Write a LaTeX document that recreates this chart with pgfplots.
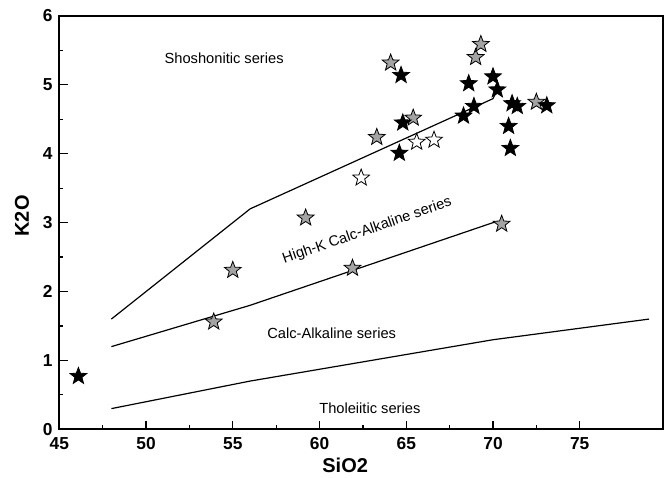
\documentclass[border=0pt]{standalone}
\usepackage{fontspec}
\setmainfont{Liberation Sans}
\usepackage{pgfplots}
\pgfplotsset{compat=1.18}
\definecolor{stargray}{HTML}{A3A3A3}

% filled five-point star mark
\pgfdeclareplotmark{fstar}{%
  \pgfpathmoveto{\pgfpointpolar{90}{\pgfplotmarksize}}%
  \pgfpathlineto{\pgfpointpolar{126}{0.42\pgfplotmarksize}}%
  \pgfpathlineto{\pgfpointpolar{162}{\pgfplotmarksize}}%
  \pgfpathlineto{\pgfpointpolar{198}{0.42\pgfplotmarksize}}%
  \pgfpathlineto{\pgfpointpolar{234}{\pgfplotmarksize}}%
  \pgfpathlineto{\pgfpointpolar{270}{0.42\pgfplotmarksize}}%
  \pgfpathlineto{\pgfpointpolar{306}{\pgfplotmarksize}}%
  \pgfpathlineto{\pgfpointpolar{342}{0.42\pgfplotmarksize}}%
  \pgfpathlineto{\pgfpointpolar{18}{\pgfplotmarksize}}%
  \pgfpathlineto{\pgfpointpolar{54}{0.42\pgfplotmarksize}}%
  \pgfpathclose
  \pgfusepathqfillstroke}

\begin{document}
\begin{tikzpicture}
\begin{axis}[
  scale only axis, width=452.8pt, height=310pt,
  xmin=45, xmax=79.8, ymin=0, ymax=6,
  xtick={45,50,...,75}, ytick={0,1,...,6},
  minor tick num=1, tick pos=left, tick align=inside,
  major tick length=6.5pt, minor tick length=3pt,
  every tick/.style={black, line width=0.9pt},
  axis line style={line width=1.3pt},
  /pgf/number format/assume math mode=true,
  ticklabel style={font=\fontsize{13}{15}\selectfont\bfseries},
  xticklabel style={yshift=-2.5pt},
  yticklabel style={xshift=-1.5pt},
  xlabel={SiO2}, ylabel={K2O},
  every axis x label/.style={at={(axis description cs:0.5,0)}, anchor=north,
    inner sep=0pt, yshift=-21pt, xshift=-12pt, font=\fontsize{15}{18}\selectfont\bfseries},
  every axis y label/.style={at={(axis description cs:0,0.5)}, anchor=south,
    inner sep=0pt, xshift=-22.5pt, yshift=5pt, rotate=90, font=\fontsize{15}{18}\selectfont\bfseries},
  clip=false,
]
% series boundaries
\addplot[black, line width=0.9pt] coordinates {(48,1.6) (56,3.2) (63,4.0) (70,4.8) (70.25,4.93)};
\addplot[black, line width=0.9pt] coordinates {(48,1.2) (52,1.5) (56,1.8) (63,2.4) (70,3.0) (70.5,3.0)};
\addplot[black, line width=0.9pt] coordinates {(48,0.3) (56,0.7) (63,1.0) (70,1.3) (79,1.6)};

% grey stars
\addplot[only marks, mark=fstar, mark size=6.6pt,
  mark options={fill=stargray, draw=black, line width=0.6pt}] coordinates {
  (53.9,1.56) (55.0,2.31) (59.2,3.07) (61.9,2.34) (63.3,4.24) (64.1,5.32)
  (65.4,4.52) (69.0,5.40) (69.3,5.59) (72.5,4.75) (70.5,2.98)};
% white stars
\addplot[only marks, mark=fstar, mark size=6.6pt,
  mark options={fill=white, draw=black, line width=0.6pt}] coordinates {
  (62.4,3.65) (65.6,4.17) (66.6,4.20)};
% black stars
\addplot[only marks, mark=fstar, mark size=6.6pt,
  mark options={fill=black, draw=black, line width=0.6pt}] coordinates {
  (46.1,0.77) (64.7,5.14) (64.6,4.01) (64.8,4.45) (68.3,4.55) (68.9,4.69)
  (68.6,5.02) (70.0,5.12) (70.25,4.93) (70.9,4.40) (71.0,4.08) (71.1,4.73)
  (71.4,4.69) (73.1,4.70)};

\node[font=\fontsize{11}{13}\selectfont] at (axis cs:54.5,5.38) {Shoshonitic series};
\node[font=\fontsize{11}{13}\selectfont, rotate=19] at (axis cs:62.75,2.88) {High-K Calc-Alkaline series};
\node[font=\fontsize{11}{13}\selectfont] at (axis cs:60.7,1.40) {Calc-Alkaline series};
\node[font=\fontsize{11}{13}\selectfont] at (axis cs:62.9,0.31) {Tholeiitic series};

\coordinate (ll) at (rel axis cs:0,0);
\coordinate (ur) at (rel axis cs:1,1);
\end{axis}
\pgfresetboundingbox
\path ([shift={(-44.5pt,-36pt)}]ll) rectangle ([shift={(4.5pt,12pt)}]ur);
\end{tikzpicture}
\end{document}
